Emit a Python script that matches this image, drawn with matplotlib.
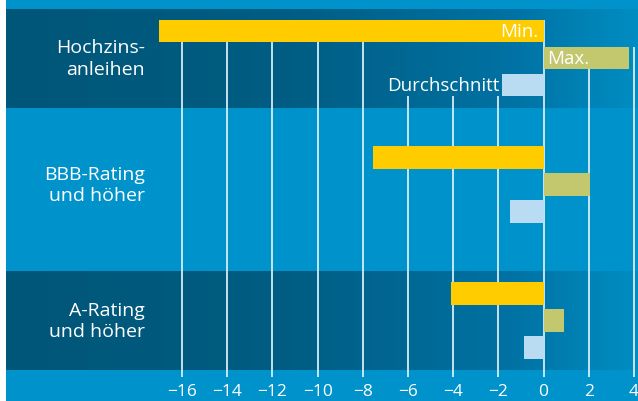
import numpy as np
import matplotlib.pyplot as plt
from matplotlib.colors import LinearSegmentedColormap

plt.rcParams['font.family'] = ['Open Sans', 'DejaVu Sans']

categories = ['Hochzins-\nanleihen', 'BBB-Rating\nund höher', 'A-Rating\nund höher']
min_vals = [-17.0, -7.55, -4.1]
max_vals = [3.8, 2.05, 0.9]
avg_vals = [-1.85, -1.5, -0.85]
ticks = [-16, -14, -12, -10, -8, -6, -4, -2, 0, 2, 4]

# layout in pixel rows (y axis runs 0..402 top-down)
group_y = [59, 185.5, 321.5]
bands = [(10, 109, 'dark'), (109, 272, 'light'), (272, 371, 'dark')]
pitch, bar_h = 27, 22.5
px_per_unit, zero_px = 22.6, 543.6

c_light = '#0093CB'
c_min, c_max, c_avg = '#FFCC00', '#C3C76E', '#B9DCF2'
grid_c = '#D6ECF7'

fig = plt.figure(figsize=(6.38, 4.02), dpi=100, facecolor='white')
ax = fig.add_axes([6 / 638, 0, 632 / 638, 1])
x0 = (6 - zero_px) / px_per_unit
x1 = (638 - zero_px) / px_per_unit
ax.set_facecolor(c_light)
for s in ax.spines.values():
    s.set_visible(False)
ax.set_xticks([])
ax.set_yticks([])

cmap = LinearSegmentedColormap.from_list(
    'band', [(0, '#005678'), (0.45, '#005D83'), (0.8, '#0072A3'), (1, '#008DC2')])
grad = np.linspace(0, 1, 256).reshape(1, -1)
for top, bottom, kind in bands:
    if kind == 'dark':
        ax.imshow(grad, cmap=cmap, aspect='auto', extent=(x0, x1, bottom, top), zorder=0)
ax.set_xlim(x0, x1)
ax.set_ylim(402, 0)

# grid lines stop at the first element above them in the first group
g0 = group_y[0]
for t in ticks:
    if t == 2:
        top = g0 + bar_h / 2
    elif t == 4:
        top = g0 - bar_h / 2
    elif -7 < t < 0:
        top = g0 + pitch + bar_h / 2
    else:
        top = g0 - pitch - bar_h / 2
    ax.vlines(t, top, 378, color=grid_c, lw=1.3, zorder=1)
    ax.text(t, 392, str(t).replace('-', '\u2212'), color='white', fontsize=12.5,
            ha='center', va='center')

yc = np.array(group_y)
ax.barh(yc - pitch, min_vals, height=bar_h, color=c_min, zorder=2)
ax.barh(yc, max_vals, height=bar_h, color=c_max, zorder=2)
ax.barh(yc + pitch, avg_vals, height=bar_h, color=c_avg, zorder=2)

for y, lab in zip(group_y, categories):
    ax.text((145 - zero_px) / px_per_unit, y, lab, color='white', fontsize=14,
            ha='right', va='center', linespacing=1.25)

ax.text(-0.25, g0 - pitch, 'Min.', color='white', fontsize=13.5, ha='right', va='center')
ax.text(0.15, g0, 'Max.', color='white', fontsize=13.5, ha='left', va='center')
ax.text(avg_vals[0] - 0.1, g0 + pitch, 'Durchschnitt', color='white', fontsize=13.5,
        ha='right', va='center')

fig.savefig('out.png', dpi=100, facecolor='white')
